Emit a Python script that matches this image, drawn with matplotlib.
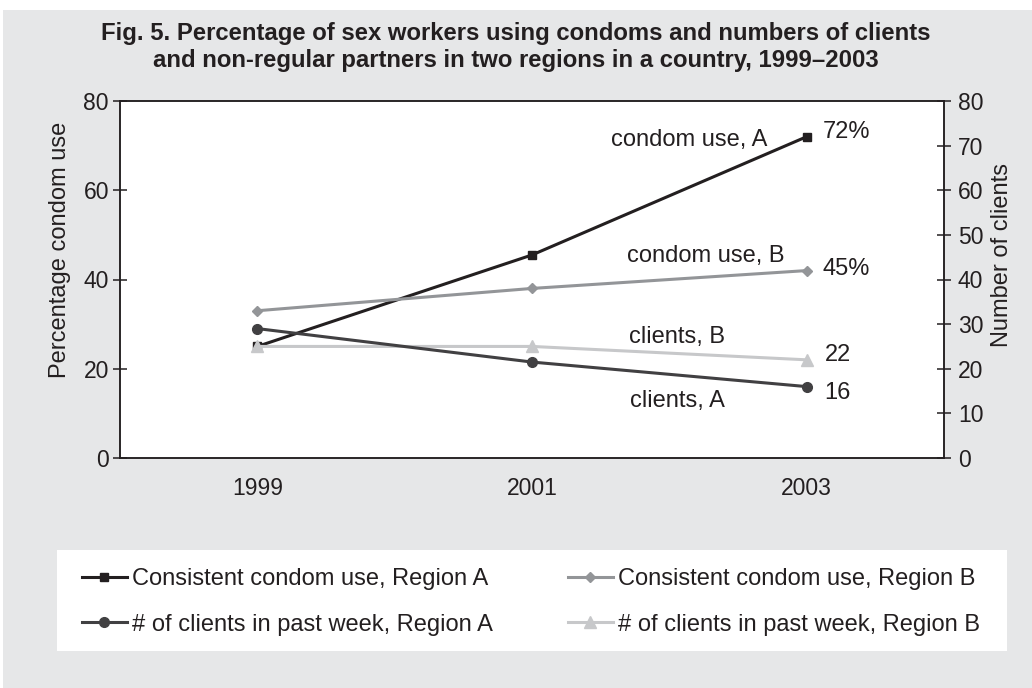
import matplotlib
matplotlib.use("Agg")
import matplotlib.pyplot as plt
from matplotlib.patches import Rectangle

plt.rcParams['font.family'] = ['Liberation Sans', 'DejaVu Sans']

# data
years = ["1999", "2001", "2003"]
condom_a = [25, 45.5, 72]      # % consistent condom use, region A
condom_b = [33, 38, 42]        # % consistent condom use, region B
clients_a = [29, 21.5, 16]     # clients in past week, region A
clients_b = [25, 25, 22]       # clients in past week, region B

end_labels_left = ["72%", "45%"]
end_labels_right = ["16", "22"]

INK = "#231f20"
BG = "#e6e7e8"

fig = plt.figure(figsize=(10.32, 6.88), dpi=100)
fig.patch.set_facecolor("white")
# grey panel behind everything (white strip on top like the scan)
fig.add_artist(Rectangle((3 / 1032, 0), 1, 1 - 10 / 688, transform=fig.transFigure,
                         facecolor=BG, edgecolor="none", zorder=-10))
# white legend box
fig.add_artist(Rectangle((57 / 1032, 1 - 651 / 688), 950 / 1032, 101 / 688,
                         transform=fig.transFigure, facecolor="white",
                         edgecolor="none", zorder=-5))

fig.text(0.5, 1 - 47 / 688,
         "Fig. 5. Percentage of sex workers using condoms and numbers of clients\n"
         "and non-regular partners in two regions in a country, 1999\u20132003",
         ha="center", va="center", fontsize=17.2, fontweight="bold", color=INK,
         linespacing=1.25)

ax = fig.add_axes([120 / 1032, 1 - 458 / 688, 824 / 1032, 357 / 688])
ax.set_facecolor("white")
ax2 = ax.twinx()

x = list(range(len(years)))

l1, = ax.plot(x, condom_a, color=INK, lw=2.2, marker="s", ms=6,
              label="Consistent condom use, Region A")
l2, = ax.plot(x, condom_b, color="#939598", lw=2.2, marker="D", ms=5.5,
              label="Consistent condom use, Region B")
l4, = ax2.plot(x, clients_b, color="#c7c8ca", lw=2.2, marker="^", ms=8,
               label="# of clients in past week, Region B")
l3, = ax2.plot(x, clients_a, color="#414042", lw=2.2, marker="o", ms=7,
               label="# of clients in past week, Region A")

ax.set_xlim(-0.5, 2.5)
ax.set_ylim(0, 80)
ax2.set_ylim(0, 80)
ax.set_xticks(x)
ax.set_xticklabels(years)
ax.set_yticks(range(0, 81, 20))
ax2.set_yticks(range(0, 81, 10))

ax.tick_params(axis="x", length=0, pad=14, labelsize=16.5, colors=INK)
ax.tick_params(axis="y", direction="inout", length=10, width=1.1, pad=3,
               labelsize=16.5, colors=INK)
ax2.tick_params(axis="y", direction="inout", length=10, width=1.1, pad=5,
                labelsize=16.5, colors=INK)

for a in (ax, ax2):
    for s in a.spines.values():
        s.set_color(INK)
        s.set_linewidth(1.1)

ax.set_ylabel("Percentage condom use", fontsize=17, color=INK, va="center")
ax.yaxis.set_label_coords((60 - 120) / 824, (458 - 250) / 357)
ax2.set_ylabel("Number of clients", fontsize=17, color=INK, va="center")
ax2.yaxis.set_label_coords((1002 - 120) / 824, (458 - 255) / 357)

# end-of-line labels
def note(a, yv, txt, dx, dy, ha):
    a.annotate(txt, xy=(x[-1], yv), xytext=(dx, dy), textcoords="offset pixels",
               ha=ha, va="center", fontsize=17, color=INK)

note(ax, condom_a[-1], end_labels_left[0], 16, 5, "left")
note(ax, condom_a[-1], "condom use, A", -39, -3, "right")
note(ax, condom_b[-1], end_labels_left[1], 16, 2, "left")
note(ax, condom_b[-1], "condom use, B", -22, 15, "right")
note(ax2, clients_b[-1], end_labels_right[1], 18, 5, "left")
note(ax2, clients_b[-1], "clients, B", -82, 23, "right")
note(ax2, clients_a[-1], end_labels_right[0], 18, -6, "left")
note(ax2, clients_a[-1], "clients, A", -82, -14, "right")

fig.legend(handles=[l1, l3, l2, l4], ncol=2, loc="upper left",
           bbox_to_anchor=(82 / 1032, 1 - 568 / 688), frameon=False,
           fontsize=17, borderpad=0, borderaxespad=0, handlelength=1.9,
           handletextpad=0.2, columnspacing=3.2, labelspacing=1.0,
           labelcolor=INK)

fig.savefig("out.png", dpi=100)
